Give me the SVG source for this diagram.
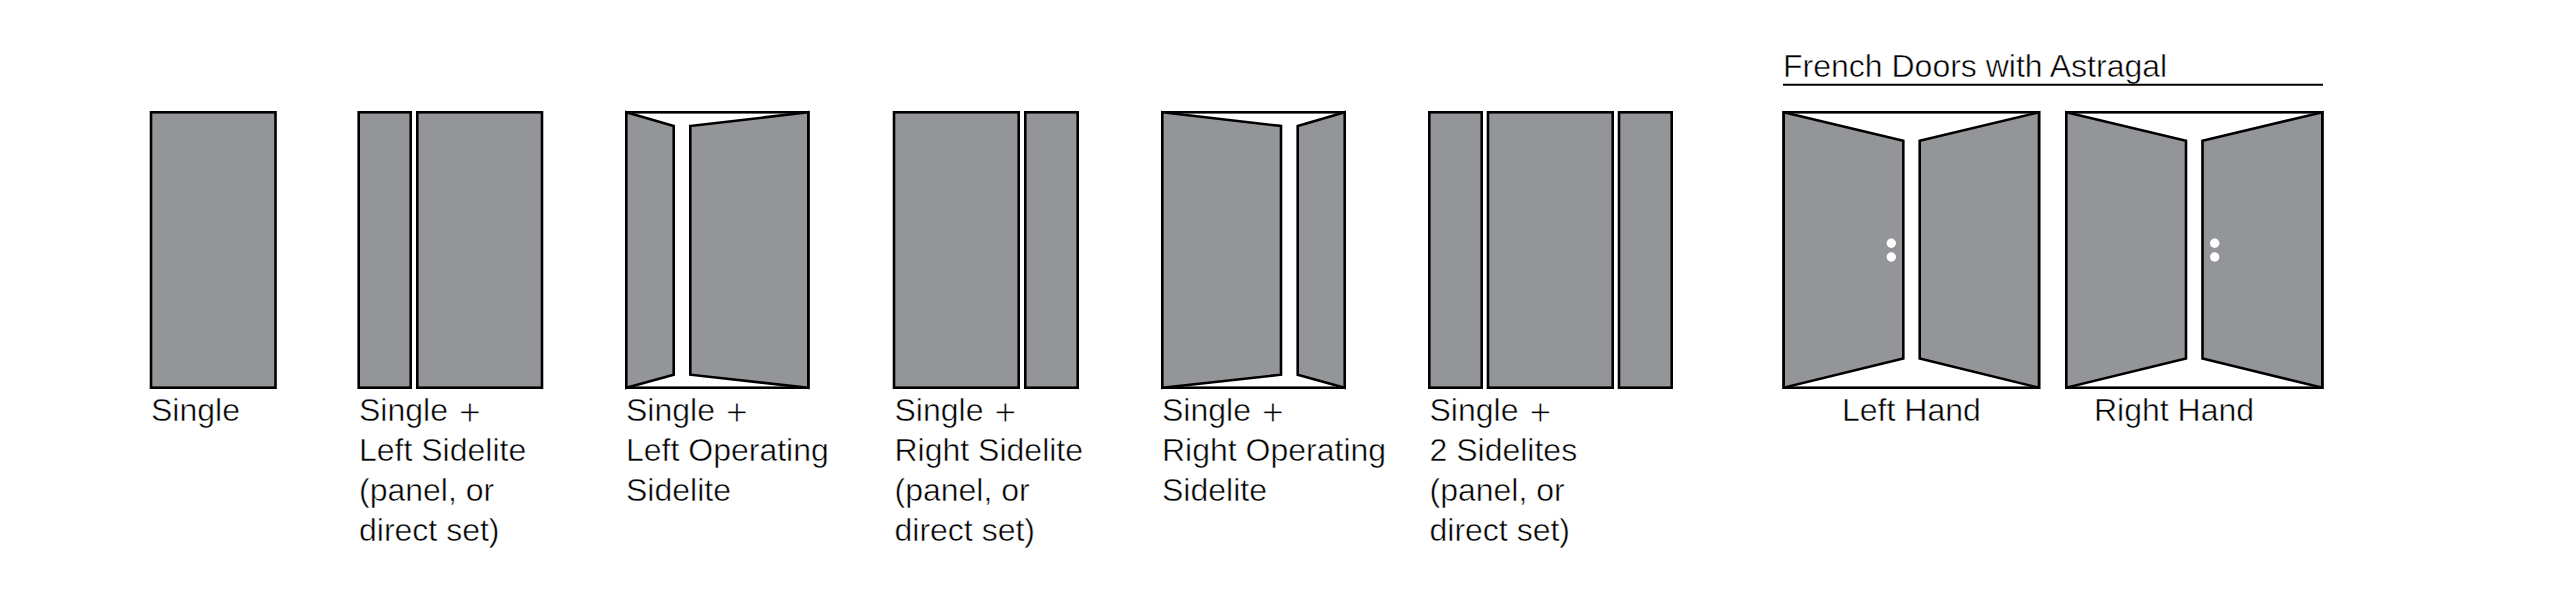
<svg xmlns="http://www.w3.org/2000/svg" width="2550" height="600" viewBox="0 0 2550 600">
<style>
.p{fill:#939598;stroke:#000;stroke-width:2.6;stroke-linejoin:miter}
.f{fill:#fff;stroke:#000;stroke-width:2.6}
.k{fill:#fff}
text{font-family:"Liberation Sans",Arial,sans-serif;font-size:32px;fill:#000;stroke:#fff;stroke-width:.5px}
.plus{font-size:38px;stroke-width:1px}
</style>
<rect width="2550" height="600" fill="#fff"/>
<g id="single">
<rect class="p" x="151" y="112.3" width="124.5" height="275.4"/>
<text x="151" y="420.7">Single</text>
</g>
<g id="left-sidelite">
<rect class="p" x="358.7" y="112.3" width="52" height="275.4"/>
<rect class="p" x="417.3" y="112.3" width="124.7" height="275.4"/>
<text x="359" y="420.7">Single <tspan class="plus" dx="2" dy="4">+</tspan></text>
<text x="359" y="460.7">Left Sidelite</text>
<text x="359" y="500.7">(panel, or</text>
<text x="359" y="540.7">direct set)</text>
</g>
<g id="left-operating">
<rect class="f" x="626.3" y="112.3" width="182" height="275.4"/>
<polygon class="p" points="626.3,112.3 673.7,126 673.7,374.7 626.3,387.7"/>
<polygon class="p" points="690.3,126 808.3,112.3 808.3,387.7 690.3,374.7"/>
<text x="626" y="420.7">Single <tspan class="plus" dx="2" dy="4">+</tspan></text>
<text x="626" y="460.7">Left Operating</text>
<text x="626" y="500.7">Sidelite</text>
</g>
<g id="right-sidelite">
<rect class="p" x="894" y="112.3" width="124.7" height="275.4"/>
<rect class="p" x="1025.3" y="112.3" width="52.4" height="275.4"/>
<text x="894.5" y="420.7">Single <tspan class="plus" dx="2" dy="4">+</tspan></text>
<text x="894.5" y="460.7">Right Sidelite</text>
<text x="894.5" y="500.7">(panel, or</text>
<text x="894.5" y="540.7">direct set)</text>
</g>
<g id="right-operating">
<rect class="f" x="1162.3" y="112.3" width="182.4" height="275.4"/>
<polygon class="p" points="1162.3,112.3 1281,126 1281,374.7 1162.3,387.7"/>
<polygon class="p" points="1297.7,126 1344.7,112.3 1344.7,387.7 1297.7,374.7"/>
<text x="1162" y="420.7">Single <tspan class="plus" dx="2" dy="4">+</tspan></text>
<text x="1162" y="460.7">Right Operating</text>
<text x="1162" y="500.7">Sidelite</text>
</g>
<g id="two-sidelites">
<rect class="p" x="1429.3" y="112.3" width="52.4" height="275.4"/>
<rect class="p" x="1488" y="112.3" width="124.7" height="275.4"/>
<rect class="p" x="1619" y="112.3" width="52.7" height="275.4"/>
<text x="1429.5" y="420.7">Single <tspan class="plus" dx="2" dy="4">+</tspan></text>
<text x="1429.5" y="460.7">2 Sidelites</text>
<text x="1429.5" y="500.7">(panel, or</text>
<text x="1429.5" y="540.7">direct set)</text>
</g>
<g id="french-title">
<text x="1783" y="77.3">French Doors with Astragal</text>
<line x1="1783" y1="84.7" x2="2323" y2="84.7" stroke="#000" stroke-width="2"/>
</g>
<g id="french-left">
<rect class="f" x="1783.7" y="112.3" width="255.3" height="275.4"/>
<polygon class="p" points="1783.7,112.3 1903.3,140.7 1903.3,358.5 1783.7,387.7"/>
<polygon class="p" points="1919.7,140.7 2039,112.3 2039,387.7 1919.7,358.5"/>
<circle class="k" cx="1891.3" cy="243.3" r="4.7"/>
<circle class="k" cx="1891.3" cy="257" r="4.7"/>
<text x="1842" y="420.7">Left Hand</text>
</g>
<g id="french-right">
<rect class="f" x="2066.3" y="112.3" width="256" height="275.4"/>
<polygon class="p" points="2066.3,112.3 2186,140.7 2186,358.5 2066.3,387.7"/>
<polygon class="p" points="2202.5,140.7 2322.3,112.3 2322.3,387.7 2202.5,358.5"/>
<circle class="k" cx="2214.7" cy="243.3" r="4.7"/>
<circle class="k" cx="2214.7" cy="257" r="4.7"/>
<text x="2094" y="420.7">Right Hand</text>
</g>
</svg>
